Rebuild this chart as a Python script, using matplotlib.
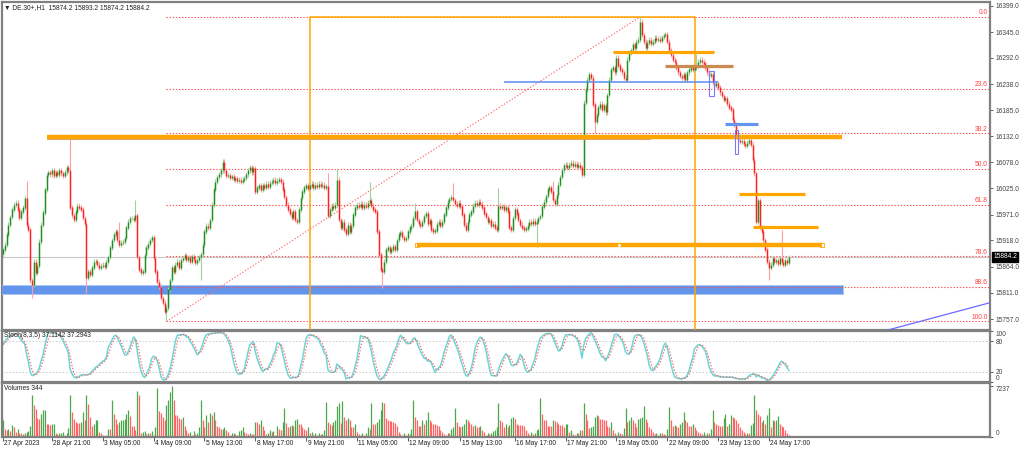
import numpy as np
import pandas as pd
import matplotlib
matplotlib.use("Agg")
import matplotlib.pyplot as plt
import matplotlib.transforms as mtransforms
from matplotlib.patches import Rectangle

plt.rcParams['font.family'] = ['Liberation Sans', 'DejaVu Sans']

# hourly closes of DE.30+, 11 bars per ~20 px column
closes = [
    15899, 15909, 15930, 15950, 15966, 15981, 15991, 15995, 15981, 15964, 15977,
    15985, 16005, 15950, 15940, 15836, 15827, 15874, 15852, 15866, 15915, 15950,
    15975, 16022, 16052, 16058, 16054, 16062, 16050, 16058, 16052, 16062, 16056,
    16050, 16058, 16067, 16062, 15985, 15970, 15960, 15977, 15989, 15985, 15981,
    15964, 15952, 15841, 15854, 15848, 15862, 15874, 15876, 15868, 15862, 15866,
    15868, 15864, 15874, 15884, 15903, 15919, 15930, 15936, 15919, 15909, 15913,
    15915, 15923, 15944, 15956, 15964, 15964, 15960, 15970, 15884, 15858, 15852,
    15854, 15888, 15903, 15911, 15919, 15925, 15882, 15854, 15833, 15823, 15800,
    15790, 15772, 15780, 15817, 15837, 15862, 15854, 15868, 15874, 15862, 15878,
    15882, 15888, 15878, 15884, 15874, 15886, 15880, 15872, 15878, 15884, 15890,
    15909, 15936, 15948, 15944, 15960, 15991, 16022, 16038, 16048, 16054, 16062,
    16079, 16062, 16050, 16052, 16046, 16050, 16042, 16046, 16040, 16042, 16038,
    16042, 16046, 16054, 16062, 16067, 16058, 16065, 16018, 16026, 16030, 16022,
    16030, 16026, 16034, 16028, 16036, 16038, 16042, 16036, 16040, 16044, 16038,
    16022, 16007, 15991, 15981, 15973, 15964, 15977, 15960, 15956, 15981, 16005,
    16018, 16026, 16030, 16024, 16030, 16034, 16026, 16032, 16028, 16034, 16030,
    16032, 16026, 16028, 15969, 15981, 15989, 15985, 15991, 16042, 15960, 15944,
    15956, 15940, 15932, 15950, 15936, 15948, 15971, 15985, 15991, 15987, 15993,
    15985, 15991, 15987, 15995, 16001, 15989, 15981, 15977, 15936, 15889, 15858,
    15854, 15874, 15899, 15903, 15895, 15899, 15905, 15899, 15919, 15930, 15934,
    15925, 15919, 15923, 15936, 15944, 15948, 15964, 15977, 15960, 15952, 15948,
    15956, 15968, 15973, 15952, 15960, 15940, 15936, 15938, 15952, 15956, 15948,
    15956, 15971, 15985, 15997, 16003, 16007, 16001, 15993, 15989, 15995, 15987,
    15971, 15950, 15940, 15956, 15971, 15977, 15989, 15995, 15991, 15997, 15993,
    15985, 15973, 15966, 15956, 15960, 15948, 15952, 15944, 15940, 15989, 15985,
    15987, 15981, 15985, 15977, 15944, 15940, 15964, 15981, 15973, 15960, 15950,
    15944, 15940, 15942, 15948, 15956, 15952, 15958, 15952, 15956, 15964, 15968,
    15987, 15997, 16009, 16022, 16026, 16018, 16001, 15993, 16011, 16032, 16048,
    16062, 16071, 16073, 16067, 16073, 16077, 16071, 16075, 16069, 16073, 16067,
    16052, 16200, 16227, 16247, 16259, 16251, 16196, 16161, 16175, 16190, 16198,
    16186, 16194, 16181, 16216, 16247, 16268, 16272, 16263, 16292, 16276, 16268,
    16263, 16251, 16247, 16288, 16304, 16308, 16319, 16313, 16325, 16329, 16366,
    16339, 16325, 16313, 16323, 16329, 16321, 16325, 16333, 16329, 16331, 16327,
    16335, 16339, 16341, 16325, 16308, 16298, 16288, 16284, 16272, 16263, 16255,
    16251, 16259, 16247, 16263, 16268, 16272, 16268, 16272, 16276, 16284, 16288,
    16284, 16280, 16272, 16263, 16255, 16259, 16243, 16235, 16239, 16231, 16222,
    16214, 16206, 16210, 16198, 16190, 16186, 16165, 16155, 16134, 16124, 16120,
    16122, 16116, 16112, 16118, 16124, 16114, 16083, 16056, 15956, 16001, 15944,
    15936, 15919, 15899, 15874, 15862, 15868, 15882, 15874, 15878, 15870, 15882,
    15874, 15868, 15878, 15872, 15884.2,
]
first_open = 15890

# wicks that stick out clearly on the picture
spike_high_bars = [13, 37, 64, 73, 121, 179, 184, 202, 227, 248, 273, 303, 351, 382, 429]
spike_high_vals = [16039, 16126, 15956, 16000, 16085, 16057, 16065, 16038, 15995, 16036,
                   16026, 16040, 16376, 16300, 15940]
spike_low_bars = [16, 46, 90, 109, 209, 294, 326, 422]
spike_low_vals = [15800, 15811, 15752, 15837, 15821, 15905, 16138, 15837]

volumes = [
    2400, 1200, 1000, 1100, 900, 1700, 1400, 700, 1100, 600, 500,
    400, 600, 700, 800, 1500, 5950, 4500, 3950, 2700, 2600, 3200,
    3800, 3900, 1900, 1800, 1750, 1800, 1900, 500, 450, 550, 600,
    700, 300, 500, 1300, 5950, 3570, 2600, 2140, 2000, 1950, 2100,
    3570, 2380, 5950, 4750, 2860, 1570, 1900, 2380, 2400, 700, 500,
    300, 200, 250, 1200, 1100, 5200, 3200, 2500, 1900, 2100, 2380,
    2400, 2620, 3200, 3900, 2950, 1520, 1520, 1000, 6550, 5950, 600,
    700, 850, 400, 600, 500, 900, 300, 1430, 6900, 3700, 3400,
    2860, 2380, 4520, 5240, 6430, 7237, 5240, 3090, 3090, 2750, 2600,
    2860, 1520, 950, 500, 700, 300, 800, 400, 600, 1430, 5300,
    2380, 1430, 3090, 2140, 3400, 3090, 3570, 2380, 1520, 1430, 1190,
    1200, 1430, 1050, 700, 300, 500, 600, 400, 250, 800, 950,
    1430, 710, 600, 480, 500, 450, 400, 2140, 2140, 1800, 2380,
    1520, 950, 400, 600, 1050, 700, 800, 300, 1520, 1190, 950,
    2140, 4050, 2000, 1430, 1520, 1670, 1520, 2380, 2570, 1900, 1800,
    1430, 1190, 950, 1430, 570, 700, 300, 500, 250, 600, 400,
    450, 950, 5000, 2140, 1900, 1670, 2140, 2380, 4400, 4760, 2000,
    5050, 2860, 2380, 2760, 2380, 1430, 1430, 1900, 700, 400, 300,
    600, 300, 500, 1430, 1190, 4760, 1900, 1900, 2140, 2620, 3810,
    5000, 4860, 2760, 2380, 2280, 2280, 2140, 2000, 1520, 700, 400,
    250, 600, 300, 500, 400, 1190, 5240, 2860, 2380, 1520, 1520,
    2380, 1900, 2380, 3570, 2380, 2140, 1900, 1900, 1700, 1520, 950,
    700, 400, 300, 600, 500, 1190, 1430, 4050, 2140, 1520, 1430,
    1520, 1900, 2620, 2380, 2140, 1800, 1520, 1670, 1430, 1430, 1520,
    950, 700, 300, 500, 400, 600, 800, 950, 1430, 4860, 2480,
    2140, 1430, 1900, 1430, 1670, 2760, 2860, 2620, 1900, 1670, 1670,
    1670, 1520, 950, 500, 300, 700, 400, 600, 950, 1190, 5500,
    3330, 2380, 2380, 1520, 1520, 1520, 2380, 2280, 2140, 1900, 1670,
    1670, 1430, 1800, 1900, 710, 950, 480, 300, 600, 500, 950,
    950, 4760, 3330, 2380, 1330, 1430, 1520, 2860, 3090, 2950, 2620,
    2620, 2380, 2380, 1520, 1430, 2140, 950, 600, 300, 700, 500,
    400, 1330, 4050, 2140, 2380, 2860, 2380, 2000, 1430, 2620, 2760,
    2860, 4400, 2620, 2140, 1430, 1190, 700, 400, 500, 300, 600,
    600, 400, 300, 1190, 4280, 2380, 1520, 1670, 1520, 1430, 1900,
    2140, 3570, 2380, 2140, 1520, 1520, 1800, 1430, 950, 700, 500,
    400, 700, 300, 600, 500, 1190, 3810, 2140, 1800, 1670, 1520,
    1520, 2760, 3330, 1520, 1900, 3090, 2860, 2760, 2380, 2000, 1430,
    950, 700, 400, 600, 500, 1670, 2000, 5950, 3810, 3330, 3000,
    2140, 2380, 1800, 3090, 4050, 1430, 2380, 2280, 2380, 2950, 1900,
    1520, 1430, 950, 600, 344,
]

price_ticks = [16399.0, 16345.0, 16292.0, 16238.0, 16185.0, 16132.0, 16078.0,
               16025.0, 15971.0, 15918.0, 15864.0, 15811.0, 15757.0]
date_bars = [0, 27, 55, 83, 111, 139, 167, 195, 223, 252, 282, 310, 338, 366, 394, 422]
date_labels = ["27 Apr 2023", "28 Apr 21:00", "3 May 05:00", "4 May 09:00", "5 May 13:00",
               "8 May 17:00", "9 May 21:00", "11 May 05:00", "12 May 09:00", "15 May 13:00",
               "16 May 17:00", "17 May 21:00", "19 May 05:00", "22 May 09:00",
               "23 May 13:00", "24 May 17:00"]

# fibonacci retracement
fib_levels = [0.0, 23.6, 38.2, 50.0, 61.8, 78.6, 88.6, 100.0]
fib_high, fib_low = 16376, 15752
fib_bar_low, fib_bar_high = 90, 351

# hand drawn objects: price, first bar, last bar
orange_thick = [(16130, 24, 462), (15908, 228, 451)]
orange_short = [(16305, 336, 392), (16013, 405.5, 442), (15945, 413, 449)]
tan_line = (16125, 24, 357)
brown_line = (16275, 365, 402)
blue_thin = (16242, 276, 394)
blue_short = (16156, 398, 416)
blue_band = (15808, 15826, -1, 463)
blue_boxes = [(389, 391.6, 16215, 16265), (403.1, 404.8, 16095, 16144)]
orange_box = (169, 381, 16376)
trend_bars = [470, 544]
trend_prices = [15717, 15790.6]
bid = 15884.2

# ---- derived series ----
c = np.array(closes, dtype=float)
o = np.concatenate([[first_open], c[:-1]])
h = np.maximum(o, c) + 5
l = np.minimum(o, c) - 5
h[spike_high_bars] = spike_high_vals
l[spike_low_bars] = spike_low_vals
n = len(c)
xb = np.arange(n)

hh = pd.Series(h).rolling(8, min_periods=1).max()
ll = pd.Series(l).rolling(8, min_periods=1).min()
num = (pd.Series(c) - ll).rolling(5, min_periods=1).sum()
den = (hh - ll).rolling(5, min_periods=1).sum()
stoch_main = 100 * num / den
stoch_sig = stoch_main.rolling(3, min_periods=1).mean()

# ---- figure layout in pixels ----
W, H = 1024, 449
fig = plt.figure(figsize=(W / 100, H / 100), dpi=100)


def box(x0, y0, x1, y1):
    return [x0 / W, 1 - y1 / H, (x1 - x0) / W, (y1 - y0) / H]


ax = fig.add_axes(box(2, 2, 990, 330))
ax_st = fig.add_axes(box(2, 331, 990, 382), sharex=ax)
ax_v = fig.add_axes(box(2, 383, 990, 437), sharex=ax)

xmin, xmax = -1 / 1.815, 987 / 1.815
FS = 4.8
GRAY = '#808080'
for a in (ax, ax_st, ax_v):
    a.set_facecolor('white')
    for s in a.spines.values():
        s.set_color(GRAY)
        s.set_linewidth(1.6)
    a.yaxis.tick_right()
    a.tick_params(axis='y', length=2.5, width=0.6, colors='#444444', labelsize=FS, pad=1.5)
    a.tick_params(axis='x', labelbottom=False)

ax.set_xlim(xmin, xmax)
ax.set_ylim(15734.5, 16406.6)
ax.set_yticks(price_ticks)
ax.set_yticklabels([f"{p:.1f}" for p in price_ticks])
ax.tick_params(axis='x', length=0)
ax_st.tick_params(axis='x', length=0)

# bid line
ax.axhline(bid, color='#c8c8c8', lw=0.8, zorder=1)

# blue support band
bb = blue_band
ax.add_patch(Rectangle((bb[2], bb[0]), bb[3] - bb[2], bb[1] - bb[0], fc='#6495ed',
                       ec='#a9c4f5', lw=0.6, zorder=3))

# fibonacci
fib_prices = [fib_high - r / 100 * (fib_high - fib_low) for r in fib_levels]
ax.hlines(fib_prices, fib_bar_low, xmax, colors='#ff5050', lw=0.8,
          linestyles=(0, (1.2, 1.6)), zorder=3.5)
for r, p in zip(fib_levels, fib_prices):
    ax.text(xmax - 1.2, p + 1.5, f"{r:.1f}", color='#ff4040', fontsize=FS,
            ha='right', va='bottom', zorder=6)
ax.plot([fib_bar_low, fib_bar_high], [fib_low, fib_high], color='#ff6a6a', lw=0.8,
        ls=(0, (1.2, 1.6)), zorder=3.5)

# orange rectangle
ob = orange_box
ax.plot([ob[0], ob[0], ob[1], ob[1]], [15700, ob[2], ob[2], 15700], color='#ffa500',
        lw=1.1, zorder=3.6)

# candles
up = c >= o
wick_col = np.where(up, '#9fd09f', '#ffa0a0')
body_col = np.where(up, '#1f8f1f', '#ff2020')
ax.vlines(xb, l, h, colors=wick_col, lw=0.8, zorder=4)
ax.vlines(xb, np.minimum(o, c), np.maximum(o, c) + 0.6, colors=body_col, lw=1.05, zorder=4)

# hand drawn lines
p, a0, a1 = tan_line
ax.hlines(p, a0, a1, colors='#d4a878', lw=1.5, zorder=5)
for p, a0, a1 in orange_thick:
    ax.hlines(p, a0, a1, colors='#ffa500', lw=3.2, zorder=5)
p, a0, a1 = orange_thick[1]
ax.plot([a0, a1], [p, p], ls='none', marker='s', ms=2.2, mfc='none', mec='#ffa500',
        mew=0.6, zorder=6)
ax.plot([(a0 + a1) / 2], [p], ls='none', marker='s', ms=1.0, mfc='white', mec='white', zorder=6)
for p, a0, a1 in orange_short:
    ax.hlines(p, a0, a1, colors='#ffa500', lw=2.3, zorder=5)
p, a0, a1 = brown_line
ax.hlines(p, a0, a1, colors='#cd8a4e', lw=2.3, zorder=5)
p, a0, a1 = blue_thin
ax.hlines(p, a0, a1, colors='#5b8def', lw=1.1, zorder=5)
p, a0, a1 = blue_short
ax.hlines(p, a0, a1, colors='#6495ed', lw=2.3, zorder=5)
for x0, x1, p0, p1 in blue_boxes:
    ax.add_patch(Rectangle((x0, p0), x1 - x0, p1 - p0, fc='none', ec='#7a7aff',
                           lw=0.8, zorder=6))
ax.plot(trend_bars, trend_prices, color='#6a6aff', lw=0.9, zorder=5)

# bid label on the price scale
ax.annotate(f"{bid:.1f}", xy=(1, bid), xycoords=('axes fraction', 'data'),
            xytext=(2.2, 0), textcoords='offset points', ha='left', va='center',
            fontsize=FS, color='white', zorder=10, annotation_clip=False,
            bbox=dict(boxstyle='square,pad=0.18', fc='black', ec='black'))

fig.text(4 / W, 1 - 7.5 / H, "\u25bc DE.30+,H1  15874.2 15893.2 15874.2 15884.2",
         fontsize=FS, color='#222222', ha='left', va='center')

# stochastic panel
ax_st.set_ylim(0, 100)
ax_st.axhline(80, color='#c8c8c8', lw=0.6, ls=(0, (2, 2)))
ax_st.axhline(20, color='#c8c8c8', lw=0.6, ls=(0, (2, 2)))
ax_st.plot(xb, stoch_main, color='#6cd6d6', lw=1.1)
ax_st.plot(xb, stoch_sig, color='#ff5a5a', lw=0.8, ls=(0, (1.2, 1.6)))
ax_st.set_yticks([100, 80, 20, 0])
ax_st.set_yticklabels(['100', '80', '20', '0'])
labs = ax_st.get_yticklabels()
labs[0].set_va('top')
labs[3].set_va('bottom')
ax_st.text(0.002, 0.905, "Stoch(8,3,5) 37.1142 37.2943", transform=ax_st.transAxes,
           fontsize=FS, color='#222222', ha='left', va='center')

# volume panel
v = np.array(volumes, dtype=float)
vcol = np.where(np.concatenate([[True], v[1:] > v[:-1]]), '#4aa84a', '#ff6464')
ax_v.vlines(xb, 0, v, colors=vcol, lw=0.9)
ax_v.set_ylim(0, 7237 * 1.06)
ax_v.set_yticks([7237, 0])
ax_v.set_yticklabels(['7237', '0'])
vl = ax_v.get_yticklabels()
vl[0].set_va('top')
vl[1].set_va('bottom')
ax_v.text(0.002, 0.89, "Volumes 344", transform=ax_v.transAxes,
          fontsize=FS, color='#222222', ha='left', va='center')

ax_v.set_xticks(date_bars)
ax_v.tick_params(axis='x', length=3, width=0.6, colors='#444444', direction='out',
                 labelbottom=False)
trans = mtransforms.blended_transform_factory(ax_v.transData, ax_v.transAxes)
for b, lab in zip(date_bars, date_labels):
    ax_v.text(b + 0.8, -0.05, lab, transform=trans, fontsize=FS, color='#222222',
              ha='left', va='top')

ax.set_xlim(xmin, xmax)
fig.savefig("out.png", dpi=100)
